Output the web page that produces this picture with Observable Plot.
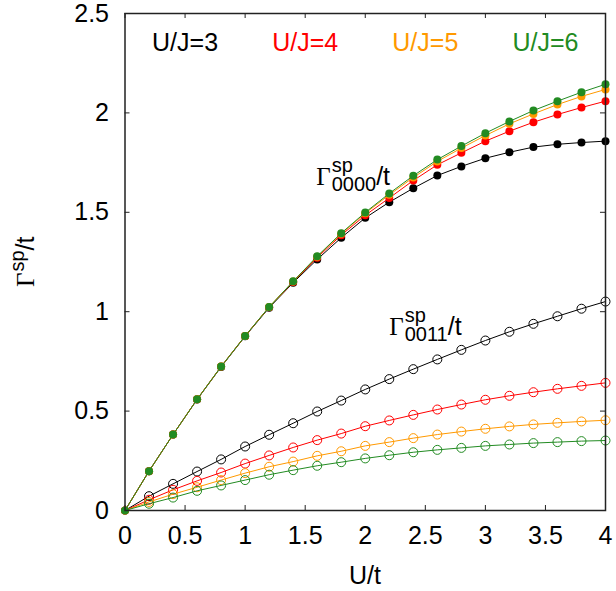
<!DOCTYPE html>
<html>
<head>
<meta charset="utf-8">
<script src="https://cdn.jsdelivr.net/npm/d3@7"></script>
<script src="https://cdn.jsdelivr.net/npm/@observablehq/plot@0.6"></script>
<style>
  html, body { margin: 0; padding: 0; background: white; }
  #chart svg { display: block; }
</style>
</head>
<body>
<div id="chart"></div>
<script>
// ---------- data ----------
const U = [0, 0.2, 0.4, 0.6, 0.8, 1.0, 1.2, 1.4, 1.6, 1.8, 2.0, 2.2, 2.4, 2.6, 2.8, 3.0, 3.2, 3.4, 3.6, 3.8, 4.0];

const labels = ["U/J=3", "U/J=4", "U/J=5", "U/J=6"];
const colors = ["#000000", "#ff0000", "#ff9900", "#228b22"];
const labelX = [0.5, 1.5, 2.5, 3.5];
const labelY = 2.35;

// Gamma^sp_0000 / t
const g0000_J3 = [0, 0.198, 0.382, 0.558, 0.722, 0.876, 1.020, 1.146, 1.263, 1.372, 1.472, 1.551, 1.621, 1.685, 1.731, 1.772, 1.802, 1.828, 1.842, 1.851, 1.858];
const g0000_J4 = [0, 0.198, 0.382, 0.559, 0.724, 0.878, 1.023, 1.150, 1.272, 1.385, 1.485, 1.572, 1.660, 1.739, 1.799, 1.858, 1.908, 1.953, 1.992, 2.027, 2.059];
const g0000_J5 = [0, 0.198, 0.382, 0.559, 0.724, 0.878, 1.024, 1.152, 1.277, 1.392, 1.495, 1.588, 1.675, 1.756, 1.823, 1.886, 1.945, 1.995, 2.042, 2.083, 2.118];
const g0000_J6 = [0, 0.198, 0.382, 0.559, 0.724, 0.878, 1.024, 1.153, 1.279, 1.395, 1.499, 1.595, 1.684, 1.765, 1.833, 1.898, 1.957, 2.012, 2.059, 2.104, 2.144];

// Gamma^sp_0011 / t
const g0011_J3 = [0, 0.072, 0.134, 0.196, 0.257, 0.322, 0.381, 0.439, 0.498, 0.553, 0.609, 0.661, 0.711, 0.760, 0.808, 0.855, 0.899, 0.939, 0.977, 1.015, 1.051];
const g0011_J4 = [0, 0.054, 0.104, 0.149, 0.191, 0.236, 0.277, 0.317, 0.354, 0.387, 0.424, 0.453, 0.481, 0.508, 0.533, 0.557, 0.577, 0.595, 0.612, 0.627, 0.642];
const g0011_J5 = [0, 0.043, 0.082, 0.117, 0.153, 0.188, 0.220, 0.246, 0.275, 0.298, 0.325, 0.344, 0.364, 0.382, 0.397, 0.411, 0.423, 0.433, 0.441, 0.448, 0.454];
const g0011_J6 = [0, 0.034, 0.065, 0.099, 0.126, 0.153, 0.180, 0.203, 0.225, 0.243, 0.262, 0.278, 0.293, 0.305, 0.315, 0.325, 0.332, 0.339, 0.344, 0.349, 0.352];

const xTicks = [0, 0.5, 1, 1.5, 2, 2.5, 3, 3.5, 4];
const yTicks = [0, 0.5, 1, 1.5, 2, 2.5];

// annotation anchors (data coords)
const ann0000 = {x: 1.596, y: 1.635, sub: "0000"};
const ann0011 = {x: 2.204, y: 0.880, sub: "0011"};

// ---------- build ----------
const s0000 = [g0000_J3, g0000_J4, g0000_J5, g0000_J6];
const s0011 = [g0011_J3, g0011_J4, g0011_J5, g0011_J6];
const toRows = arr => arr.map((v, i) => ({u: U[i], g: v}));

const XMIN = 0, XMAX = 4, YMIN = 0, YMAX = 2.5;
const tickLenX = 5 / 120;   // in data units
const tickLenY = 5 / 198.8;
const FS = 25;

const marks = [];
// ticks (inward, mirrored)
marks.push(Plot.ruleX(xTicks, {x: d => d, y1: YMIN, y2: YMIN + tickLenY, stroke: "#222", strokeWidth: 1}));
marks.push(Plot.ruleX(xTicks, {x: d => d, y1: YMAX, y2: YMAX - tickLenY, stroke: "#222", strokeWidth: 1}));
marks.push(Plot.ruleY(yTicks, {y: d => d, x1: XMIN, x2: XMIN + tickLenX, stroke: "#222", strokeWidth: 1}));
marks.push(Plot.ruleY(yTicks, {y: d => d, x1: XMAX, x2: XMAX - tickLenX, stroke: "#222", strokeWidth: 1}));

// 0011 open circles
s0011.forEach((arr, k) => {
  const rows = toRows(arr);
  marks.push(Plot.line(rows, {x: "u", y: "g", stroke: colors[k], strokeWidth: 1}));
  marks.push(Plot.dot(rows.filter(d => d.u > 0), {x: "u", y: "g", r: 4.5, stroke: colors[k], strokeWidth: 1, fill: "none"}));
});
// 0000 filled dots
s0000.forEach((arr, k) => {
  const rows = toRows(arr);
  marks.push(Plot.line(rows, {x: "u", y: "g", stroke: colors[k], strokeWidth: 1}));
  marks.push(Plot.dot(rows, {x: "u", y: "g", r: 4, fill: colors[k], stroke: "none"}));
});

// legend labels
marks.push(Plot.text(labels, {x: (d, i) => labelX[i], y: () => labelY, text: d => d, fill: (d, i) => colors[i], fontSize: FS, textAnchor: "middle"}));

marks.push(Plot.axisX(xTicks, {tickSize: 0, tickPadding: 16, fontSize: FS, label: null, tickFormat: d => String(d), fill: "#000"}));
marks.push(Plot.axisY(yTicks, {tickSize: 0, tickPadding: 16, fontSize: FS, label: null, tickFormat: d => String(d), fill: "#000"}));
marks.push(Plot.frame({stroke: "#222", strokeWidth: 1.5}));

const plot = Plot.plot({
  width: 616,
  height: 591,
  marginLeft: 124.5,
  marginRight: 11,
  marginTop: 13,
  marginBottom: 81,
  x: {domain: [XMIN, XMAX]},
  y: {domain: [YMIN, YMAX]},
  style: {fontFamily: "'Liberation Sans', Arial, Helvetica, sans-serif", fontSize: FS + "px", background: "white", color: "black"},
  marks
});
document.getElementById("chart").appendChild(plot);

// ---------- rich-text labels ----------
const svg = d3.select(plot);
const sx = plot.scale("x"), sy = plot.scale("y");
const FONT = "'Liberation Sans', Arial, Helvetica, sans-serif";
const SERIF = "'Liberation Serif', 'Times New Roman', serif";

function gammaLabel(g, x0, y0, sub, opts) {
  const big = opts.big, small = opts.small;
  const t1 = g.append("text").attr("x", x0).attr("y", y0).attr("text-anchor", "start")
    .attr("font-family", SERIF).attr("font-size", big).text("Γ");
  const w = t1.node().getComputedTextLength();
  const sp = g.append("text").attr("x", x0 + w + 1).attr("y", y0 - opts.supShift).attr("text-anchor", "start")
    .attr("font-family", FONT).attr("font-size", small).text("sp");
  let endX = x0 + w + 1 + sp.node().getComputedTextLength();
  if (sub) {
    const sb = g.append("text").attr("x", x0 + w + 1).attr("y", y0 + opts.subShift).attr("text-anchor", "start")
      .attr("font-family", FONT).attr("font-size", small).text(sub);
    endX = Math.max(endX, x0 + w + 1 + sb.node().getComputedTextLength());
  }
  g.append("text").attr("x", endX).attr("y", y0).attr("text-anchor", "start")
    .attr("font-family", FONT).attr("font-size", big).text("/t");
}

const annG = svg.append("g").attr("fill", "black");
gammaLabel(annG, sx.apply(ann0000.x), sy.apply(ann0000.y), ann0000.sub, {big: 25, small: 20, supShift: 13, subShift: 6});
gammaLabel(annG, sx.apply(ann0011.x), sy.apply(ann0011.y), ann0011.sub, {big: 25, small: 20, supShift: 13, subShift: 6});

// y-axis label
const yl = svg.append("g").attr("transform", "translate(34,287) rotate(-90)");
gammaLabel(yl, 0, 0, null, {big: 25, small: 20, supShift: 10, subShift: 0});

// x-axis label
svg.append("text").attr("x", 365).attr("y", 584).attr("text-anchor", "middle")
  .attr("font-family", FONT).attr("font-size", FS).text("U/t");
</script>
</body>
</html>
